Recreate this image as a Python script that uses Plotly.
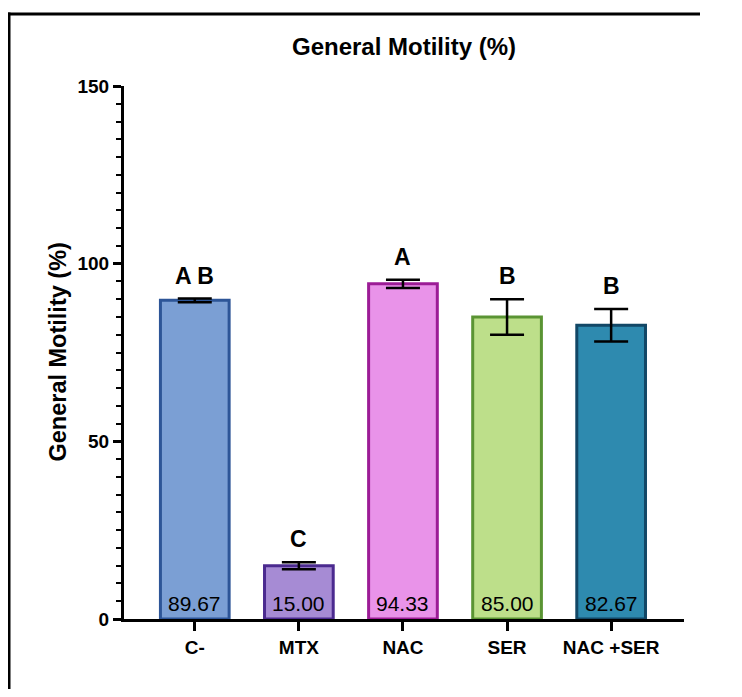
import plotly.graph_objects as go

categories = ["C-", "MTX", "NAC", "SER", "NAC +SER"]
means = [89.67, 15.00, 94.33, 85.00, 82.67]
errors = [0.5, 1.0, 1.15, 5.0, 4.6]
letters = ["A B", "C", "A", "B", "B"]
value_labels = ["89.67", "15.00", "94.33", "85.00", "82.67"]
fill_colors = ["#7B9FD4", "#A68BD4", "#E993E9", "#BDDF8A", "#2E8AAF"]
line_colors = ["#2D5597", "#4B2A8F", "#9C1C96", "#5A9433", "#124766"]
y_ticks = [0, 50, 100, 150]

FONT = "Arial, Liberation Sans, sans-serif"
OFF = 8  # page body margin
W, H = 742 - 2 * OFF, 697 - 2 * OFF
ML, MR, MT, MB = 124 - OFF, 58 - OFF, 86 - OFF, 78 - OFF
PW = W - ML - MR
PH = H - MT - MB


def px_x(page_x):
    return (page_x - OFF - ML) / PW


def px_y(page_y):
    return (MT + PH - (page_y - OFF)) / PH


fig = go.Figure()
fig.add_trace(go.Bar(
    x=categories, y=means, width=0.66,
    marker=dict(color=fill_colors, line=dict(color=line_colors, width=3)),
    error_y=dict(type="data", array=errors, visible=True, color="black",
                 thickness=2.5, width=17),
    showlegend=False,
))

annotations = []
for c, m, e, lt, vl in zip(categories, means, errors, letters, value_labels):
    annotations.append(dict(x=c, y=m + e, text=f"<b>{lt}</b>", showarrow=False,
                            yanchor="bottom", yshift=8,
                            font=dict(family=FONT, size=23, color="black")))
    annotations.append(dict(x=c, y=0, text=vl, showarrow=False,
                            yanchor="bottom", yshift=2,
                            font=dict(family=FONT, size=21, color="black")))

annotations.append(dict(x=px_x(57), y=0.5, xref="paper", yref="paper",
                        text="<b>General Motility (%)</b>", textangle=-90,
                        showarrow=False, xanchor="center", yanchor="middle",
                        font=dict(family=FONT, size=23.5, color="black")))

frame = [
    dict(type="line", xref="paper", yref="paper",
         x0=px_x(9), x1=px_x(9), y0=px_y(800), y1=px_y(12.5),
         line=dict(color="black", width=3), layer="above"),
    dict(type="line", xref="paper", yref="paper",
         x0=px_x(7.5), x1=px_x(700), y0=px_y(14), y1=px_y(14),
         line=dict(color="black", width=3), layer="above"),
]

fig.update_layout(
    width=W, height=H,
    margin=dict(l=ML, r=MR, t=MT, b=MB),
    paper_bgcolor="white", plot_bgcolor="white",
    title=dict(text="<b>General Motility (%)</b>", x=0.5, xref="paper",
               y=1 - (47 - OFF) / H, yanchor="middle", xanchor="center",
               font=dict(family=FONT, size=24, color="black")),
    annotations=annotations,
    shapes=frame,
)

fig.update_xaxes(
    range=[-0.68, 4.70], showline=True, linecolor="black", linewidth=3,
    ticks="outside", ticklen=9, tickwidth=3, tickcolor="black",
    showgrid=False, zeroline=False,
    tickfont=dict(family=FONT, size=19, color="black"),
    tickprefix="<b>", ticksuffix="</b>",
)
fig.update_yaxes(
    range=[0, 150], tickvals=y_ticks, ticktext=[f"<b>{v}</b>" for v in y_ticks],
    showline=True, linecolor="black", linewidth=3,
    ticks="outside", ticklen=8, tickwidth=3, tickcolor="black",
    minor=dict(ticks="outside", ticklen=5, tickwidth=2, dtick=5, tickcolor="black"),
    showgrid=False, zeroline=False,
    tickfont=dict(family=FONT, size=19, color="black"),
)

fig.write_html("out.html")
